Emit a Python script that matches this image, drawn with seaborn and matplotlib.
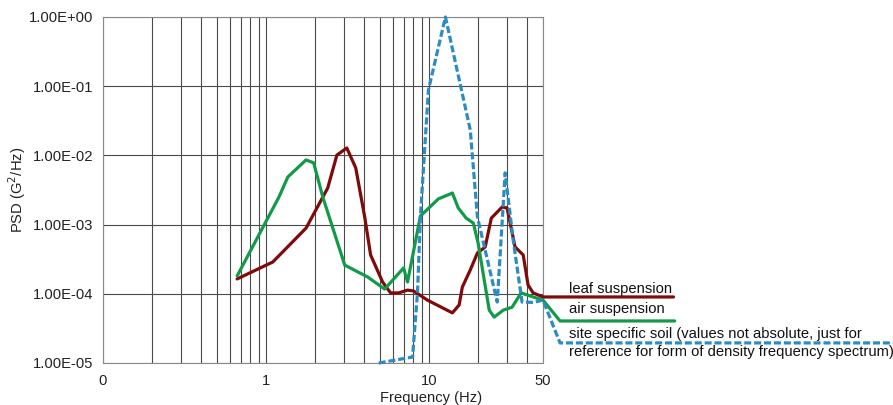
import numpy as np
import pandas as pd
import matplotlib
matplotlib.use("Agg")
import matplotlib.pyplot as plt
import seaborn as sns
from matplotlib.ticker import FuncFormatter, FixedLocator

# ---- data ----
leaf_f = [0.665, 1.10, 1.76, 2.39, 2.72, 3.13, 3.55, 4.03, 4.38, 5.19, 5.81, 6.50,
          7.38, 8.03, 9.78, 13.9, 15.3, 16.0, 17.9, 19.8, 22.1, 24.1, 28.1, 30.1,
          33.7, 37.8, 40.5, 43.5, 50.0, 316.0]
leaf_psd = [1.64e-4, 2.88e-4, 8.9e-4, 3.38e-3, 1.01e-2, 1.28e-2, 6.6e-3, 1.29e-3,
            3.64e-4, 1.48e-4, 1.03e-4, 1.03e-4, 1.13e-4, 1.10e-4, 8.1e-5, 5.3e-5,
            6.9e-5, 1.25e-4, 2.21e-4, 3.89e-4, 4.75e-4, 1.24e-3, 1.80e-3, 1.74e-3,
            4.75e-4, 3.64e-4, 1.34e-4, 1.03e-4, 9.0e-5, 9.0e-5]

air_f = [0.665, 1.20, 1.36, 1.76, 1.96, 2.23, 3.04, 4.20, 5.34, 6.98, 7.38, 8.85,
         11.4, 13.9, 15.1, 16.9, 18.7, 20.0, 23.4, 25.1, 28.5, 32.3, 36.7, 43.5,
         50.0, 63.6, 321.0]
air_psd = [1.81e-4, 2.5e-3, 4.87e-3, 8.6e-3, 7.8e-3, 2.5e-3, 2.6e-4, 1.75e-4,
           1.17e-4, 2.36e-4, 1.48e-4, 1.33e-3, 2.35e-3, 2.86e-3, 1.74e-3, 1.24e-3,
           1.05e-3, 5.4e-4, 5.8e-5, 4.6e-5, 5.8e-5, 6.4e-5, 1.03e-4, 9.0e-5,
           8.1e-5, 4.05e-5, 4.05e-5]

soil_f = [4.91, 7.92, 8.5, 8.85, 9.91, 12.6, 17.9, 19.8, 26.2, 29.3, 32.8, 37.2,
          43.5, 50.0, 63.6, 8000.0]
soil_psd = [1.0e-5, 1.22e-5, 1.06e-4, 1.29e-3, 8.8e-2, 1.0, 2.33e-2, 1.29e-3,
            7.6e-5, 5.6e-3, 6.0e-4, 7.6e-5, 7.5e-5, 8.1e-5, 1.95e-5, 1.95e-5]

series_names = ["leaf suspension", "air suspension", "site specific soil"]
x_ticks = [0.1, 1, 10, 50]
x_ticklabels = ["0", "1", "10", "50"]

# ---- plot ----
sns.set_style("white")
plt.rcParams["font.family"] = ["Liberation Sans", "DejaVu Sans"]
FS = 10.6

fig = plt.figure(figsize=(8.93, 4.05), dpi=100)
ax = fig.add_axes([103 / 893, 1 - 363 / 405, 440 / 893, 346 / 405])

colors = {"leaf suspension": "#7f0a0a",
          "air suspension": "#119a4a",
          "site specific soil": "#2a8cc2"}

df = pd.concat([
    pd.DataFrame({"f": leaf_f, "psd": leaf_psd, "series": series_names[0]}),
    pd.DataFrame({"f": air_f, "psd": air_psd, "series": series_names[1]}),
    pd.DataFrame({"f": soil_f, "psd": soil_psd, "series": series_names[2]}),
])

for name in series_names:
    sub = df[df["series"] == name]
    ls = (0, (2.2, 0.9)) if name == "site specific soil" else "-"
    sns.lineplot(data=sub, x="f", y="psd", ax=ax, color=colors[name],
                 linewidth=2.3, linestyle=ls, sort=False, estimator=None,
                 legend=False, zorder=3)

for ln in ax.lines:
    ln.set_clip_on(False)

ax.set_xscale("log")
ax.set_yscale("log")
ax.set_xlim(0.1, 50)
ax.set_ylim(1e-5, 1)

# grid
minor_x = [v * d for d in (0.1, 1, 10) for v in range(2, 10) if v * d < 50]
ax.xaxis.set_minor_locator(FixedLocator(minor_x))
ax.xaxis.set_major_locator(FixedLocator(x_ticks))
ax.set_xticklabels(x_ticklabels)
ax.yaxis.set_major_locator(FixedLocator([1e-5, 1e-4, 1e-3, 1e-2, 1e-1, 1]))
ax.yaxis.set_minor_locator(FixedLocator([]))
ax.yaxis.set_major_formatter(FuncFormatter(lambda v, p: f"{v:.2E}"))
ax.grid(True, which="major", axis="y", color="#4a4a4a", linewidth=0.8)
ax.grid(True, which="both", axis="x", color="#4a4a4a", linewidth=0.8)
ax.set_axisbelow(True)
ax.tick_params(axis="y", which="both", length=0, labelsize=FS, colors="#222222", pad=7)
ax.tick_params(axis="x", which="both", length=0, labelsize=FS, colors="#222222", pad=8)
for s in ax.spines.values():
    s.set_color("#8a8a8a")
    s.set_linewidth(0.8)

ax.set_xlabel("Frequency (Hz)", fontsize=FS, color="#222222")
ax.xaxis.set_label_coords((431 - 103) / 440, -0.08)
ax.set_ylabel("PSD (G$^2$/Hz)", fontsize=FS, color="#222222")
ax.yaxis.set_label_coords(-0.17, 0.5)

tx = 569 / 893
fig.text(tx, 1 - 289 / 405, "leaf suspension", fontsize=FS, va="center", color="#111111")
fig.text(tx, 1 - 309 / 405, "air suspension", fontsize=FS, va="center", color="#111111")
fig.text(tx, 1 - 334 / 405, "site specific soil (values not absolute, just for",
         fontsize=FS, va="center", color="#111111")
fig.text(tx, 1 - 352 / 405, "reference for form of density frequency spectrum)",
         fontsize=FS, va="center", color="#111111")

fig.savefig("out.png", dpi=100)
